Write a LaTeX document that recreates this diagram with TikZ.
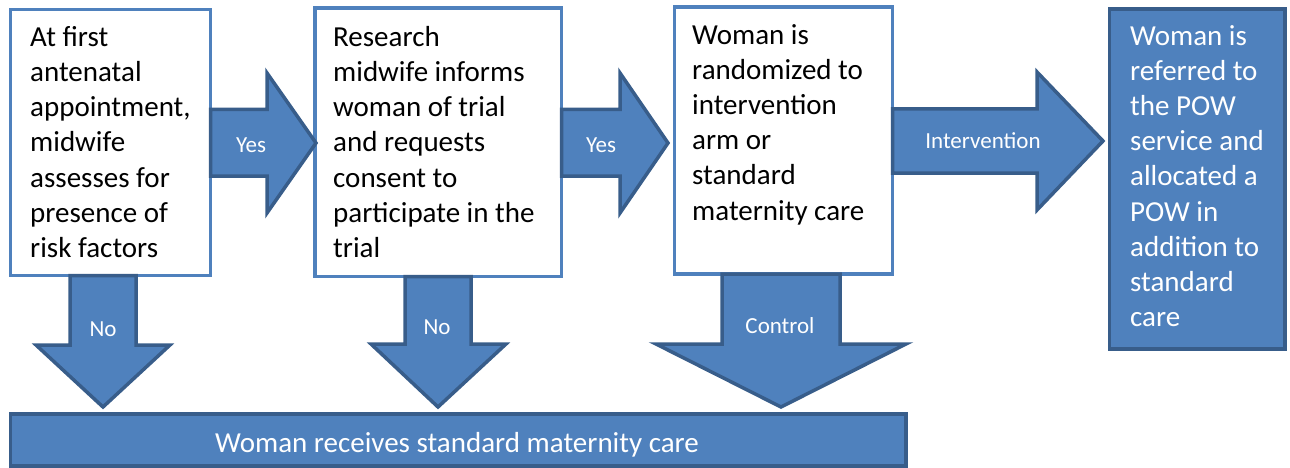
\documentclass[tikz,border=0pt]{standalone}
\usepackage{fontspec}
\setmainfont{Carlito}
\usetikzlibrary{positioning}

\definecolor{boxblue}{HTML}{4F81BD}
\definecolor{edgeblue}{HTML}{385D8A}

\tikzset{
  stepbox/.style={draw=boxblue, line width=3.5pt, fill=white, inner sep=0pt, outer sep=0pt, anchor=north west},
  endbox/.style={draw=edgeblue, line width=3.5pt, fill=boxblue, inner sep=0pt, outer sep=0pt, anchor=north west},
  blockarrow/.style={draw=edgeblue, line width=3.5pt, fill=boxblue},
  steptext/.style={anchor=north west, inner sep=0pt, align=left, font=\fontsize{29}{35.2}\selectfont},
  arrowtext/.style={text=white, inner sep=0pt, font=\fontsize{23}{28}\selectfont},
}

\begin{document}
\begin{tikzpicture}[x=1pt, y=-1pt]
        \useasboundingbox (0,0) rectangle (1290,468);

        % white boxes
        \node[stepbox, minimum width=200pt, minimum height=266pt] (screen) at (10.5,9.5) {};
        \node[stepbox, minimum width=246.5pt, minimum height=268.5pt] (consent) at (315,8) {};
        \node[stepbox, minimum width=218pt, minimum height=267pt] (random) at (674.5,7) {};

        % filled boxes
        \node[endbox, minimum width=175.5pt, minimum height=340pt] (pow) at (1109.5,9) {};
        \node[endbox, minimum width=895.5pt, minimum height=52pt] (standard) at (10.5,414) {};

        \node[steptext] (screentext) at (30,26) {At first\\antenatal\\appointment,\\midwife\\assesses for\\presence of\\risk factors};
        \node[steptext] (consenttext) at (333,26) {Research\\midwife informs\\woman of trial\\and requests\\consent to\\participate in the\\trial};
        \node[steptext] (randomtext) at (692,24) {Woman is\\randomized to\\intervention\\arm or\\standard\\maternity care};
        \node[steptext, text=white] (powtext) at (1130,25) {Woman is\\referred to\\the POW\\service and\\allocated a\\POW in\\addition to\\standard\\care};
        \node[steptext, anchor=base, text=white] (standardtext) at (457,452) {Woman receives standard maternity care};

        % arrows to the right
        \draw[blockarrow] (210.5,109.5) -- (267,109.5) -- (267,73) -- (316,143) -- (267,213) -- (267,176) -- (210.5,176) -- cycle;
        \draw[blockarrow] (561.5,109.5) -- (620,109.5) -- (620,73) -- (668,143) -- (620,213) -- (620,176) -- (561.5,176) -- cycle;
        \draw[blockarrow] (892.5,109) -- (1037,109) -- (1037,72) -- (1103,141) -- (1037,210) -- (1037,173) -- (892.5,173) -- cycle;

        % arrows down
        \draw[blockarrow] (70,275.5) -- (70,345) -- (36,345) -- (103,407) -- (170,345) -- (136,345) -- (136,275.5) -- cycle;
        \draw[blockarrow] (405,276.5) -- (405,344) -- (371,344) -- (438,407) -- (506,344) -- (471,344) -- (471,276.5) -- cycle;
        \draw[blockarrow] (722,274) -- (722,344) -- (656,344) -- (781,407) -- (906,344) -- (840,344) -- (840,274) -- cycle;

        \node[arrowtext] (yes1) at (251,145) {Yes};
        \node[arrowtext] (yes2) at (601,145) {Yes};
        \node[arrowtext] (intervention) at (983,141) {Intervention};
        \node[arrowtext] (no1) at (103,329.5) {No};
        \node[arrowtext] (no2) at (437,327.5) {No};
        \node[arrowtext] (control) at (780,326) {Control};
\end{tikzpicture}
\end{document}
